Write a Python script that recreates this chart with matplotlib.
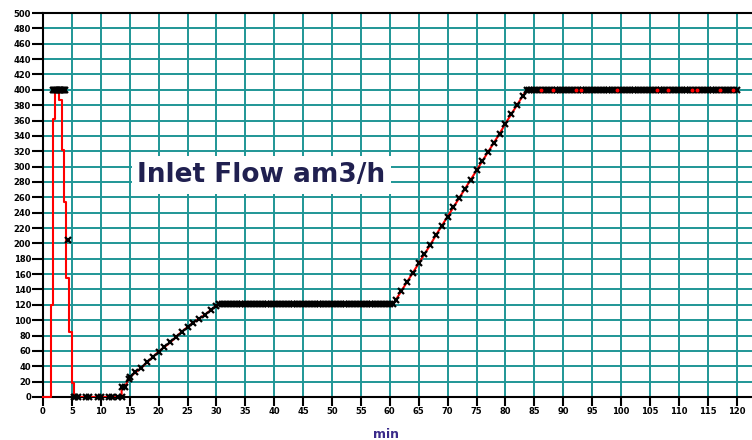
import matplotlib
matplotlib.use("Agg")
import matplotlib.pyplot as plt

# Start-up spike: time [min] / inlet flow [am3/h]
spike_time = [0, 1.4, 1.4, 1.65, 1.65, 2.1, 2.1, 2.8, 2.8, 3.3, 3.3, 3.65, 3.65,
              4.0, 4.0, 4.55, 4.55, 4.95, 4.95, 5.4, 5.4]
spike_flow = [0, 0, 120, 120, 362, 362, 400, 400, 387, 387, 322, 322, 254,
              254, 155, 155, 85, 85, 18, 18, 0]
spike_mark_time = [1.7, 1.9, 2.1, 2.3, 2.5, 2.7, 2.9, 3.1, 3.3, 3.5, 3.7, 3.85, 4.4]
spike_mark_flow = [400, 400, 400, 400, 400, 400, 400, 400, 400, 400, 400, 400, 204]

# Main run, logged in phases: time [min] / inlet flow [am3/h]
idle_time = [5.4, 5.5, 6.0, 7.5, 8.0, 9.5, 10.0, 11.5, 12.0, 13.0, 13.6, 13.6, 14.2, 14.8]
idle_flow = [0, 0, 0, 0, 0, 0, 0, 0, 0, 0, 0, 13, 13, 24]

ramp1_time = [15, 16, 17, 18, 19, 20, 21, 22, 23, 24, 25, 26, 27, 28, 29, 30, 30.5]
ramp1_flow = [26, 32, 38, 45, 52, 59, 65, 71, 78, 85, 91, 97, 102, 107, 113, 119, 121]

hold1_time = [31, 31.5, 32, 32.5, 33, 33.5, 34, 34.5, 35, 35.5, 36, 36.5, 37, 37.5,
              38, 38.5, 39, 39.5, 40, 40.5, 41, 41.5, 42, 42.5, 43, 43.5, 44, 44.5,
              45, 45.5, 46, 46.5, 47, 47.5, 48, 48.5, 49, 49.5, 50, 50.5, 51, 51.5,
              52, 52.5, 53, 53.5, 54, 54.5, 55, 55.5, 56, 56.5, 57, 57.5, 58, 58.5,
              59, 59.5, 60, 60.6]
hold1_flow = [121, 121, 121, 121, 121, 121, 121, 121, 121, 121, 121, 121, 121, 121,
              121, 121, 121, 121, 121, 121, 121, 121, 121, 121, 121, 121, 121, 121,
              121, 121, 121, 121, 121, 121, 121, 121, 121, 121, 121, 121, 121, 121,
              121, 121, 121, 121, 121, 121, 121, 121, 121, 121, 121, 121, 121, 121,
              121, 121, 121, 121]

ramp2_time = [61, 62, 63, 64, 65, 66, 67, 68, 69, 70, 71, 72, 73, 74, 75, 76, 77,
              78, 79, 80, 81, 82, 83, 83.7]
ramp2_flow = [126, 138, 150, 162, 174, 186, 198, 211, 223, 235, 247, 259, 271, 283,
              295, 307, 319, 331, 343, 356, 368, 380, 392, 400]

hold2_time = [84, 84.5, 85, 85.5, 86, 86.5, 87, 87.5, 88, 88.5, 89, 89.5, 90, 90.5,
              91, 91.5, 92, 92.5, 93, 93.5, 94, 94.5, 95, 95.5, 96, 96.5, 97, 97.5,
              98, 98.5, 99, 99.5, 100, 100.5, 101, 101.5, 102, 102.5, 103, 103.5,
              104, 104.5, 105, 105.5, 106, 106.5, 107, 107.5, 108, 108.5, 109, 109.5,
              110, 110.5, 111, 111.5, 112, 112.5, 113, 113.5, 114, 114.5, 115, 115.5,
              116, 116.5, 117, 117.5, 118, 118.5, 119, 119.5, 120]
hold2_flow = [400, 400, 400, 400, 400, 400, 400, 400, 400, 400, 400, 400, 400, 400,
              400, 400, 400, 400, 400, 400, 400, 400, 400, 400, 400, 400, 400, 400,
              400, 400, 400, 400, 400, 400, 400, 400, 400, 400, 400, 400, 400, 400,
              400, 400, 400, 400, 400, 400, 400, 400, 400, 400, 400, 400, 400, 400,
              400, 400, 400, 400, 400, 400, 400, 400, 400, 400, 400, 400, 400, 400,
              400, 400, 400]

plateau_dot_time = [86.1, 88.3, 92.2, 93.1, 99.3, 106.2, 108.2, 112.2, 113.1, 117.1, 119.3]
plateau_dot_flow = [400, 400, 400, 400, 400, 400, 400, 400, 400, 400, 400]

x_ticks = [0, 5, 10, 15, 20, 25, 30, 35, 40, 45, 50, 55, 60, 65, 70, 75, 80, 85, 90,
           95, 100, 105, 110, 115, 120]
y_ticks = [0, 20, 40, 60, 80, 100, 120, 140, 160, 180, 200, 220, 240, 260, 280, 300,
           320, 340, 360, 380, 400, 420, 440, 460, 480, 500]

run_time = idle_time + ramp1_time + hold1_time + ramp2_time + hold2_time
run_flow = idle_flow + ramp1_flow + hold1_flow + ramp2_flow + hold2_flow

GRID = "#1f9696"
RED = "#ff0000"

fig = plt.figure(figsize=(7.52, 4.40), dpi=100)
ax = fig.add_axes([43 / 752, 1 - 397 / 440, 709 / 752, 384 / 440])
ax.set_xlim(0, 709 / 5.78)
ax.set_ylim(0, 500)

ax.set_xticks(x_ticks)
ax.set_yticks(y_ticks)
ax.set_xticklabels([str(v) for v in x_ticks], fontsize=6, fontweight="bold")
ax.set_yticklabels([str(v) for v in y_ticks], fontsize=6, fontweight="bold")
ax.tick_params(axis="y", direction="out", length=8, width=1.5, pad=0.5, color="black")
ax.tick_params(axis="x", direction="out", length=6.5, width=1.5, pad=0.5, color="black")

ax.set_axisbelow(True)
ax.grid(True, color=GRID, linewidth=1.4)
for side in ("left", "bottom", "top"):
    ax.spines[side].set_color("black")
    ax.spines[side].set_linewidth(1.5)
ax.spines["right"].set_visible(False)

# start-up spike
ax.plot(spike_time, spike_flow, color=RED, linewidth=1.5, zorder=3, clip_on=False)
ax.plot(spike_mark_time, spike_mark_flow, linestyle="none", marker="x", markersize=4.2,
        markeredgewidth=1.6, color="black", zorder=4)

# main run
ax.plot(run_time, run_flow, color=RED, linewidth=1.5, zorder=3)
ax.plot(run_time, run_flow, linestyle="none", marker="x", markersize=4.2,
        markeredgewidth=1.6, color="black", zorder=4, clip_on=False)
ax.plot(plateau_dot_time, plateau_dot_flow, linestyle="none", marker="o", markersize=1.8,
        color=RED, zorder=5)

ax.text(16.3, 280, "Inlet Flow am3/h", fontsize=19, fontweight="bold",
        family="DejaVu Sans", color="#202050", ha="left", va="baseline", zorder=6,
        bbox=dict(facecolor="white", edgecolor="none", pad=4))

fig.text(386 / 752, 1 - 438 / 440, "min", fontsize=9, fontweight="bold",
         color="#3a2a8a", ha="center", va="baseline")

fig.savefig("out.png", dpi=100)
